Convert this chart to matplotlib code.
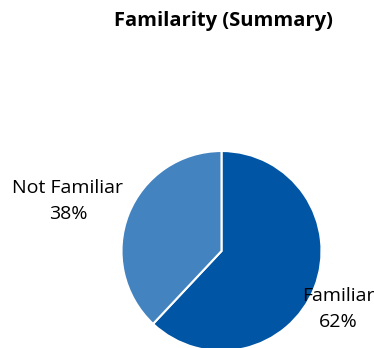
import matplotlib
matplotlib.use("Agg")
import matplotlib.pyplot as plt

labels = ["Familiar", "Not Familiar"]
shares = [62, 38]
colors = ["#0056A4", "#4383C0"]

W, H = 374, 348
fig = plt.figure(figsize=(W / 100, H / 100), dpi=100)
plt.rcParams['font.family'] = ['Open Sans', 'DejaVu Sans']

# pie centre and radius in pixels
cx, cy, r = 221.5, 251, 100
ax = fig.add_axes([(cx - r) / W, (H - cy - r) / H, 2 * r / W, 2 * r / H])
ax.pie(shares, colors=colors, startangle=90, counterclock=False,
       wedgeprops=dict(edgecolor="white", linewidth=1.5, clip_on=False))
ax.set_xlim(-1, 1)
ax.set_ylim(-1, 1)
ax.set_aspect("auto")
ax.axis("off")

fig.text(223 / W, 1 - 21 / H, "Familarity (Summary)", ha="center", va="center",
         fontsize=14.5, fontweight="bold")

label_pos = {"Familiar": (338, 309), "Not Familiar": (68, 201)}
for lab, val in zip(labels, shares):
    x, y = label_pos[lab]
    fig.text(x / W, 1 - y / H, f"{lab}\n{val}%", ha="center", va="center",
             fontsize=14, linespacing=1.55)

fig.savefig("out.png", dpi=100)
